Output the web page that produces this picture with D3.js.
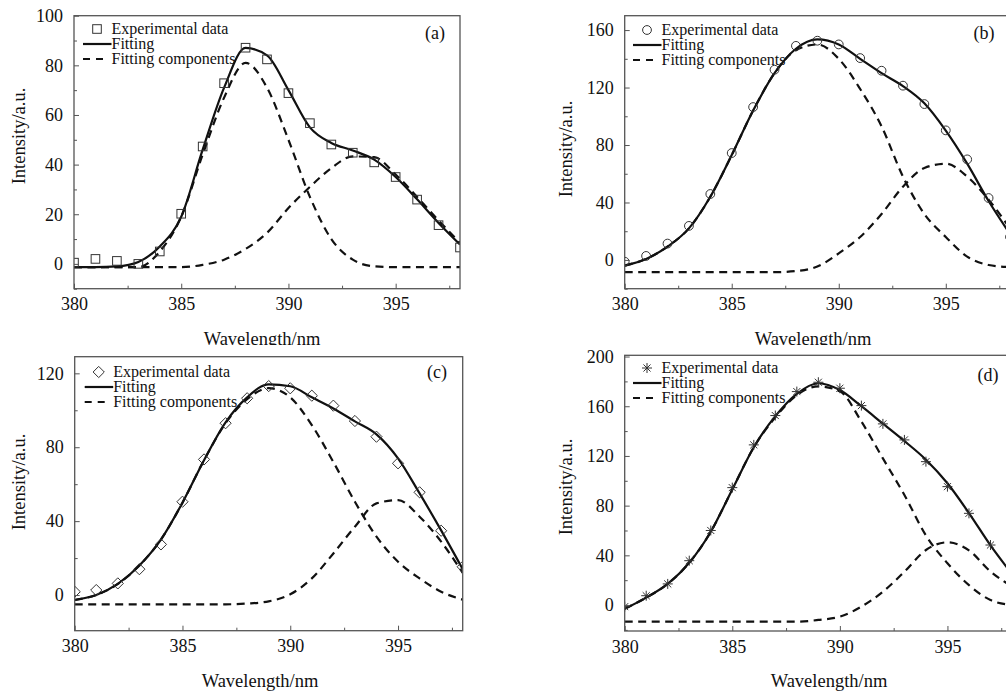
<!DOCTYPE html>
<html>
<head>
<meta charset="utf-8">
<script src="https://cdn.jsdelivr.net/npm/d3@7"></script>
<style>
  body { margin: 0; background: #fff; }
  svg { display: block; font-family: "Liberation Serif", "Times New Roman", serif; }
</style>
</head>
<body>
<div id="chart"></div>
<script>
// wavelengths of the experimental points (nm)
var wavelengths = [380, 381, 382, 383, 384, 385, 386, 387, 388, 389, 390, 391, 392, 393, 394, 395, 396, 397, 398];

// panel (a)
var expA   = [0.5, 2, 1.2, 0, 5, 20.2, 47.3, 72.8, 87.1, 82.4, 68.8, 56.7, 48.1, 44.8, 40.9, 35, 25.9, 15.6, 6.6];
var fitA   = [-1.3, -1.3, -1, 0.8, 7, 19, 46, 71, 87, 84, 70, 55, 48.7, 45.7, 42, 35, 26, 16.5, 7.8];
var compA1 = [-1.3, -1.3, -1.3, -1.3, 5, 19, 44, 67, 81, 71, 50, 27, 10, 1.7, -1, -1.3, -1.3, -1.3, -1.3];
var compA2 = [-1.3, -1.3, -1.3, -1.3, -1.3, -1.3, -0.4, 1.7, 6, 12.5, 22.5, 31, 38.6, 43.3, 43, 36, 27, 17.5, 8.5];

// panel (b)
var expB   = [-1.2, 2.8, 11.4, 23.7, 45.9, 74.4, 106.4, 132.4, 149, 152.6, 150, 140.5, 131.7, 121.3, 108.5, 90.2, 70, 43.1, 16];
var fitB   = [-3.9, 0.7, 9.3, 22, 44, 73, 104, 130, 147, 153.5, 150, 140, 130, 121, 109, 90, 67, 41, 18];
var compB1 = [-3.9, 0.7, 9.3, 22, 44, 73, 104, 130, 146, 150, 140, 119, 93, 58, 32, 16, 2.3, -3.5, -5];
var compB2 = [-8.5, -8.5, -8.5, -8.5, -8.5, -8.5, -8.5, -8.5, -7.7, -4.6, 4.6, 16, 32, 51, 64, 67, 58, 42, 22];

// panel (c)
var expC   = [1.8, 2.7, 6.3, 14, 27.4, 50.5, 73.4, 93, 106.5, 113.1, 111.9, 107.9, 102.5, 94.2, 85.7, 71.3, 55.6, 34.8, 15.3];
var fitC   = [-2.7, 0, 6, 16, 30, 50, 73, 93.5, 107, 114, 113, 107, 101, 94, 87, 74, 55, 35, 14];
var compC1 = [-2.7, 0, 6, 16, 30, 50, 73, 93, 106, 112, 107, 92, 72, 50.5, 31.6, 18, 9, 1.8, -2.5];
var compC2 = [-5, -5, -5, -5, -5, -5, -5, -5, -4.6, -3.4, 0.4, 9, 22.5, 37, 49.6, 51.4, 42.4, 28.9, 12];

// panel (d)
var expD   = [-1.3, 7.5, 17, 35.7, 60, 94.5, 128.9, 152.5, 171.8, 179.3, 174.5, 160.5, 145.8, 132.9, 115.4, 95.3, 73.8, 48.3, 24];
var fitD   = [-3, 6, 17, 34, 59, 93, 127, 152, 170, 178.5, 173, 160, 146, 132, 117, 98, 74, 48, 25];
var compD1 = [-3, 6, 17, 34, 59, 93, 127, 151, 169, 176, 172, 147.7, 118, 88.6, 56, 33.6, 16, 4, 0];
var compD2 = [-13.4, -13.4, -13.4, -13.4, -13.4, -13.4, -13.4, -13.4, -13.4, -12, -9.4, -1.3, 10.7, 26.8, 44.3, 50.5, 44, 27, 15];

// tick values
var xTicks = [380, 385, 390, 395];
var xMinorTicks = [382.5, 387.5, 392.5, 397.5];
var yTicksA = [0, 20, 40, 60, 80, 100];
var yTicksB = [0, 40, 80, 120, 160];
var yTicksC = [0, 40, 80, 120];
var yTicksD = [0, 40, 80, 120, 160, 200];

var legendLabels = ["Experimental data", "Fitting", "Fitting components"];

var W = 1006, H = 693;
var svg = d3.select("#chart").append("svg").attr("width", W).attr("height", H);

// panel layout: plot box in page pixels
var panels = [
  { id: "a", exp: expA, fit: fitA, c1: compA1, c2: compA2, marker: "square",
    left: 74, right: 460, top: 15.7, bottom: 288.7, yDomain: [-10, 100], yTicks: yTicksA, yMinor: 10,
    yLabelX: 19, yLabelY: 136, xLabelX: 262, tagX: 435, tagY: 39, legX: 97, legY: 29, bgTop: 0 },
  { id: "b", exp: expB, fit: fitB, c1: compB1, c2: compB2, marker: "circle",
    left: 624.7, right: 1010, top: 15.7, bottom: 288.7, yDomain: [-20, 170], yTicks: yTicksB, yMinor: 20,
    yLabelX: 566, yLabelY: 149, xLabelX: 813, tagX: 984, tagY: 39, legX: 647, legY: 30, bgTop: 0 },
  { id: "c", exp: expC, fit: fitC, c1: compC1, c2: compC2, marker: "diamond",
    left: 74.7, right: 462.7, top: 356.7, bottom: 630.7, yDomain: [-19.3, 129], yTicks: yTicksC, yMinor: 20,
    yLabelX: 19, yLabelY: 482, xLabelX: 260, tagX: 437, tagY: 378, legX: 98.7, legY: 372, bgTop: 345 },
  { id: "d", exp: expD, fit: fitD, c1: compD1, c2: compD2, marker: "asterisk",
    left: 624.7, right: 1012, top: 355.3, bottom: 631, yDomain: [-20.9, 201], yTicks: yTicksD, yMinor: 20,
    yLabelX: 566, yLabelY: 487, xLabelX: 829, tagX: 988, tagY: 381, legX: 647, legY: 368, bgTop: 345 }
];

var ink = "#111";
var frame = "#555";

function drawMarker(g, type, cx, cy) {
  if (type === "square") {
    g.append("rect").attr("x", cx - 4.3).attr("y", cy - 4.3).attr("width", 8.6).attr("height", 8.6)
      .attr("fill", "none").attr("stroke", "#333").attr("stroke-width", 1);
  } else if (type === "circle") {
    g.append("circle").attr("cx", cx).attr("cy", cy).attr("r", 4.4)
      .attr("fill", "none").attr("stroke", "#333").attr("stroke-width", 1);
  } else if (type === "diamond") {
    var s = 5.6;
    g.append("path").attr("d", "M" + cx + "," + (cy - s) + "L" + (cx + s) + "," + cy + "L" + cx + "," + (cy + s) + "L" + (cx - s) + "," + cy + "Z")
      .attr("fill", "none").attr("stroke", "#333").attr("stroke-width", 1);
  } else {
    var r = 5, p = "";
    for (var k = 0; k < 4; k++) {
      var a = k * Math.PI / 4;
      p += "M" + (cx - r * Math.cos(a)) + "," + (cy - r * Math.sin(a)) + "L" + (cx + r * Math.cos(a)) + "," + (cy + r * Math.sin(a));
    }
    g.append("path").attr("d", p).attr("stroke", "#333").attr("stroke-width", 1).attr("fill", "none");
  }
}

function drawPanel(p) {
  var g = svg.append("g");
  // lower panels sit on top of the upper panels' x titles
  if (p.bgTop > 0) {
    g.append("rect").attr("x", p.left < 500 ? 0 : 500).attr("y", p.bgTop).attr("width", 506).attr("height", H - p.bgTop).attr("fill", "#fff");
  }

  var x = d3.scaleLinear().domain([380, 398]).range([p.left, p.right]);
  var y = d3.scaleLinear().domain(p.yDomain).range([p.bottom, p.top]);

  // clip to plot box
  g.append("clipPath").attr("id", "clip-" + p.id)
    .append("rect").attr("x", p.left).attr("y", p.top).attr("width", p.right - p.left).attr("height", p.bottom - p.top);
  var plot = g.append("g").attr("clip-path", "url(#clip-" + p.id + ")");

  var line = d3.line().x(function (d, i) { return x(wavelengths[i]); }).y(function (d) { return y(d); }).curve(d3.curveMonotoneX);

  [p.c1, p.c2].forEach(function (c) {
    plot.append("path").attr("d", line(c)).attr("fill", "none").attr("stroke", ink)
      .attr("stroke-width", 2.2).attr("stroke-dasharray", "8,5.5");
  });
  plot.append("path").attr("d", line(p.fit)).attr("fill", "none").attr("stroke", ink).attr("stroke-width", 2.2);

  p.exp.forEach(function (v, i) {
    drawMarker(plot, p.marker, x(wavelengths[i]), y(v));
  });

  // frame
  g.append("rect").attr("x", p.left).attr("y", p.top).attr("width", p.right - p.left).attr("height", p.bottom - p.top)
    .attr("fill", "none").attr("stroke", frame).attr("stroke-width", 1.3);

  // x axis with inward ticks
  var xAxis = g.append("g").attr("transform", "translate(0," + p.bottom + ")")
    .call(d3.axisBottom(x).tickValues(xTicks).tickSizeInner(-5).tickSizeOuter(0).tickPadding(9).tickFormat(d3.format("d")));
  xAxis.select(".domain").remove();
  xAxis.selectAll("line").attr("stroke", frame);
  xAxis.selectAll("text").attr("font-size", "18px").attr("fill", ink).attr("font-family", "Liberation Serif");
  g.append("g").attr("transform", "translate(0," + p.bottom + ")")
    .call(d3.axisBottom(x).tickValues(xMinorTicks).tickSizeInner(-3).tickSizeOuter(0).tickFormat(""))
    .call(function (s) { s.select(".domain").remove(); s.selectAll("line").attr("stroke", frame); });

  // y axis with inward ticks
  var yMinorVals = d3.range(Math.ceil(p.yDomain[0] / p.yMinor) * p.yMinor, p.yDomain[1], p.yMinor)
    .filter(function (v) { return p.yTicks.indexOf(v) < 0; });
  var yAxis = g.append("g").attr("transform", "translate(" + p.left + ",0)")
    .call(d3.axisLeft(y).tickValues(p.yTicks).tickSizeInner(-5).tickSizeOuter(0).tickPadding(11).tickFormat(d3.format("d")));
  yAxis.select(".domain").remove();
  yAxis.selectAll("line").attr("stroke", frame);
  yAxis.selectAll("text").attr("font-size", "18px").attr("fill", ink).attr("font-family", "Liberation Serif");
  g.append("g").attr("transform", "translate(" + p.left + ",0)")
    .call(d3.axisLeft(y).tickValues(yMinorVals).tickSizeInner(-3).tickSizeOuter(0).tickFormat(""))
    .call(function (s) { s.select(".domain").remove(); s.selectAll("line").attr("stroke", frame); });

  // axis titles
  g.append("text").attr("x", p.xLabelX).attr("y", p.bottom + 56).attr("text-anchor", "middle")
    .attr("font-size", "18.5px").attr("fill", ink).text("Wavelength/nm");
  g.append("text").attr("transform", "translate(" + p.yLabelX + "," + p.yLabelY + ") rotate(-90)")
    .attr("text-anchor", "middle").attr("dy", "0.35em").attr("font-size", "18.5px").attr("fill", ink).text("Intensity/a.u.");

  // panel tag
  g.append("text").attr("x", p.tagX).attr("y", p.tagY).attr("text-anchor", "middle")
    .attr("font-size", "18px").attr("fill", ink).text("(" + p.id + ")");

  // legend
  var lx = p.legX, ly = p.legY, tx = lx + 14.5;
  drawMarker(g, p.marker, lx, ly);
  g.append("line").attr("x1", lx - 14).attr("x2", tx).attr("y1", ly + 15).attr("y2", ly + 15)
    .attr("stroke", ink).attr("stroke-width", 2.2);
  g.append("line").attr("x1", lx - 14).attr("x2", tx - 3).attr("y1", ly + 30).attr("y2", ly + 30)
    .attr("stroke", ink).attr("stroke-width", 2.2).attr("stroke-dasharray", "7,6");
  legendLabels.forEach(function (t, i) {
    g.append("text").attr("x", tx).attr("y", ly + i * 15 + 5).attr("font-size", "16px").attr("fill", ink).text(t);
  });
}

panels.forEach(drawPanel);
</script>
</body>
</html>
